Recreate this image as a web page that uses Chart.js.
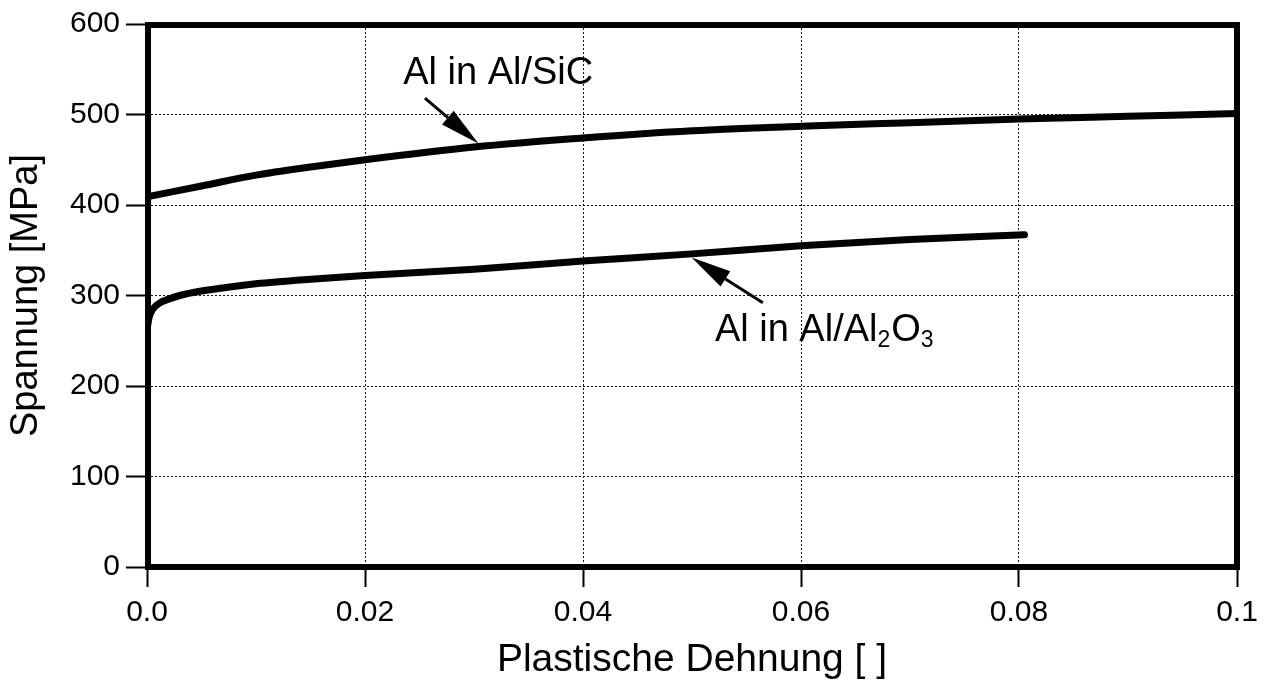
<!DOCTYPE html>
<html lang="de">
<head>
<meta charset="UTF-8">
<title>Spannung vs. plastische Dehnung</title>
<script src="https://cdn.jsdelivr.net/npm/chart.js"></script>
<style>
  html, body { margin: 0; padding: 0; background: #fff; }
  #wrap { width: 1266px; height: 684px; }
</style>
</head>
<body>
<div id="wrap"><canvas id="flowChart"></canvas></div>
<script>
// Al in Al/SiC
const sicStrain = [0, 0.005, 0.01, 0.015, 0.02, 0.03, 0.04, 0.05, 0.06, 0.07, 0.08, 0.09, 0.1];
const sicStress = [409, 421, 433, 442, 450, 464, 474, 482, 487, 491, 495, 498, 501];

// Al in Al/Al2O3
const aloStrain = [0, 0.0002, 0.0006, 0.0012, 0.002, 0.003, 0.005, 0.0067, 0.01, 0.015, 0.02, 0.03, 0.04, 0.05, 0.06, 0.07, 0.0805];
const aloStress = [262, 276, 286, 292, 296, 300, 305, 308, 313, 318, 322, 329, 338, 346, 355, 362, 367];

const xTicks = [0, 0.02, 0.04, 0.06, 0.08, 0.1];
const xTickLabels = ['0.0', '0.02', '0.04', '0.06', '0.08', '0.1'];
const yTicks = [0, 100, 200, 300, 400, 500, 600];

const FONT = "'Liberation Sans', Arial, Helvetica, sans-serif";
Chart.defaults.font.family = FONT;
Chart.defaults.color = '#000';

function toPoints(xs, ys) {
    return xs.map((x, i) => ({ x: x, y: ys[i] }));
}

// labels with arrows, placed in data coordinates
const labels = [
    { parts: [{ t: 'Al in Al/SiC' }], at: [0.0235, 534], from: [0.0255, 518], to: [0.0304, 468] },
    { parts: [{ t: 'Al in Al/Al' }, { t: '2', sub: true }, { t: 'O' }, { t: '3', sub: true }],
      at: [0.0521, 250], from: [0.0565, 292], to: [0.04997, 342] }
];

const framePlugin = {
    id: 'frame',
    afterDatasetsDraw(chart) {
        const { ctx, chartArea: a, scales } = chart;
        const xs = scales.x, ys = scales.y;

        // arrows + text
        ctx.save();
        labels.forEach(l => {
            const x1 = xs.getPixelForValue(l.from[0]), y1 = ys.getPixelForValue(l.from[1]);
            const x2 = xs.getPixelForValue(l.to[0]), y2 = ys.getPixelForValue(l.to[1]);
            const ang = Math.atan2(y2 - y1, x2 - x1);
            const headLen = 40, headHalf = 9;
            const bx = x2 - headLen * Math.cos(ang), by = y2 - headLen * Math.sin(ang);
            ctx.strokeStyle = '#000';
            ctx.lineWidth = 3;
            ctx.beginPath();
            ctx.moveTo(x1, y1);
            ctx.lineTo(bx, by);
            ctx.stroke();
            ctx.fillStyle = '#000';
            ctx.beginPath();
            ctx.moveTo(x2, y2);
            ctx.lineTo(bx + headHalf * Math.sin(ang), by - headHalf * Math.cos(ang));
            ctx.lineTo(bx - headHalf * Math.sin(ang), by + headHalf * Math.cos(ang));
            ctx.closePath();
            ctx.fill();

            let tx = xs.getPixelForValue(l.at[0]);
            const ty = ys.getPixelForValue(l.at[1]);
            ctx.textBaseline = 'alphabetic';
            ctx.textAlign = 'left';
            l.parts.forEach(p => {
                ctx.font = (p.sub ? '23px ' : '38px ') + FONT;
                ctx.fillText(p.t, tx, ty + (p.sub ? 6 : 0));
                tx += ctx.measureText(p.t).width + (p.sub ? 1 : 0);
            });
        });

        // heavy frame round the plot area
        ctx.lineWidth = 6;
        ctx.strokeStyle = '#000';
        ctx.strokeRect(a.left + 1, a.top + 1, a.right - a.left - 1, a.bottom - a.top - 1);
        ctx.restore();
    }
};

const ctx = document.getElementById('flowChart').getContext('2d');
new Chart(ctx, {
    type: 'line',
    data: {
        datasets: [
            {
                label: 'Al in Al/SiC',
                data: toPoints(sicStrain, sicStress),
                borderColor: '#000',
                borderWidth: 7,
                pointRadius: 0,
                cubicInterpolationMode: 'monotone',
                borderCapStyle: 'round'
            },
            {
                label: 'Al in Al/Al2O3',
                data: toPoints(aloStrain, aloStress),
                borderColor: '#000',
                borderWidth: 7,
                pointRadius: 0,
                cubicInterpolationMode: 'monotone',
                borderCapStyle: 'round'
            }
        ]
    },
    options: {
        responsive: true,
        maintainAspectRatio: false,
        animation: false,
        layout: { padding: { top: 22, right: 29, left: 0, bottom: 0 } },
        plugins: {
            legend: { display: false },
            tooltip: { enabled: false }
        },
        scales: {
            x: {
                type: 'linear',
                min: 0,
                max: 0.1,
                afterBuildTicks: s => { s.ticks = xTicks.map(v => ({ value: v })); },
                afterFit: s => { s.height = 117; },
                ticks: {
                    font: { size: 30 },
                    padding: 8,
                    maxRotation: 0,
                    callback: (v, i) => xTickLabels[i]
                },
                grid: {
                    color: '#111',
                    lineWidth: 1,
                    tickLength: 20,
                    tickWidth: 2,
                    tickColor: '#000',
                    tickBorderDash: []
                },
                border: { display: false, dash: [2, 2] },
                title: {
                    display: true,
                    text: 'Plastische Dehnung [ ]',
                    font: { size: 39 },
                    padding: 0
                }
            },
            y: {
                min: 0,
                max: 600,
                afterBuildTicks: s => { s.ticks = yTicks.map(v => ({ value: v })); },
                afterFit: s => { s.width = 147; },
                ticks: {
                    font: { size: 30 },
                    padding: 6
                },
                grid: {
                    color: '#111',
                    lineWidth: 1,
                    tickLength: 21,
                    tickWidth: 2,
                    tickColor: '#000',
                    tickBorderDash: []
                },
                border: { display: false, dash: [2, 2] },
                title: {
                    display: true,
                    text: 'Spannung [MPa]',
                    font: { size: 38 },
                    padding: 4
                }
            }
        }
    },
    plugins: [framePlugin]
});
</script>
</body>
</html>
